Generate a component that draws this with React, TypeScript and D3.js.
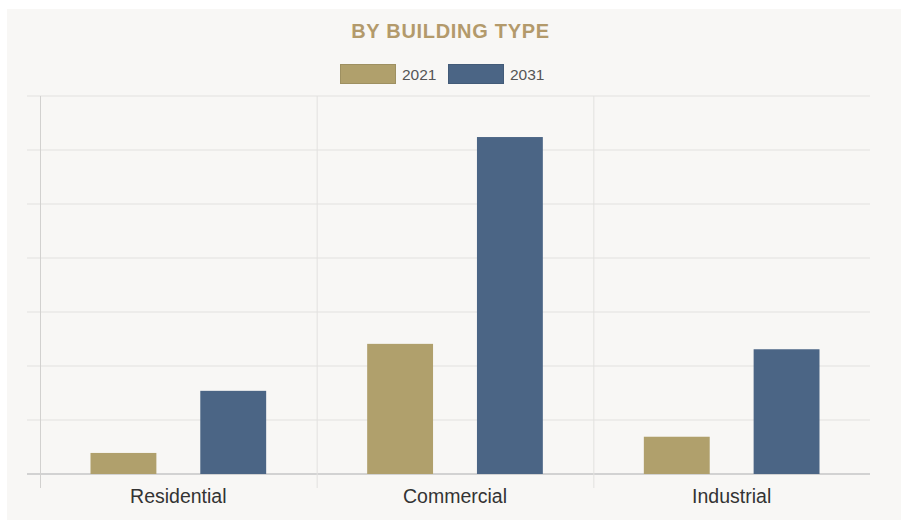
import React from "react";
import * as d3 from "d3";

const categories = ["Residential", "Commercial", "Industrial"];
const seriesNames = ["2021", "2031"];
const values2021 = [3.9, 24.1, 6.9];
const values2031 = [15.4, 62.4, 23.1];
const yTicks = [0, 10, 20, 30, 40, 50, 60, 70];
const colors = ["#b0a06c", "#4b6585"];

export default function App() {
  const W = 901, H = 520;
  const left = 40, right = 870, top = 96, bottom = 474;
  const x0 = d3.scaleBand<string>().domain(categories).range([left, right]).padding(0);
  const x1 = d3.scaleBand<string>().domain(seriesNames).range([0, x0.bandwidth()]).paddingInner(0.4).paddingOuter(0.46);
  const y = d3.scaleLinear().domain([0, 70]).range([bottom, top]);
  const series = [values2021, values2031];
  const bounds = [...categories.map((c) => x0(c)!)];

  return (
    <svg width={W} height={H} style={{ position: "absolute", left: 0, top: 0, display: "block" }}>
      <rect x={0} y={0} width={W} height={H} fill="#ffffff" />
      <rect x={7} y={9} width={W - 7} height={H - 9} fill="#f8f7f5" />
      <text x={450.5} y={38} textAnchor="middle" fontFamily="Liberation Sans, Arial, sans-serif" fontWeight="bold" fontSize={20} letterSpacing={0.7} fill="#b39a6b">
        BY BUILDING TYPE
      </text>
      {seriesNames.map((s, i) => (
        <g key={s} transform={`translate(${340 + i * 108},64)`}>
          <rect x={0.5} y={0.5} width={55} height={19} fill={colors[i]} stroke={d3.color(colors[i])!.darker(0.3).toString()} strokeWidth={1} />
          <text x={62} y={15.5} fontFamily="Liberation Sans, Arial, sans-serif" fontSize={15.5} fill="#555">{s}</text>
        </g>
      ))}
      {yTicks.map((t) => (
        <line key={t} x1={27} x2={right} y1={y(t)} y2={y(t)} stroke={t === 0 ? "#c6c6c6" : "#e2e1df"} strokeWidth={t === 0 ? 1.5 : 1} />
      ))}
      {bounds.map((b, i) => (
        <line key={i} x1={b + 0.5} x2={b + 0.5} y1={top} y2={488} stroke={i === 0 ? "#d2d1cf" : "#e2e1df"} strokeWidth={1} />
      ))}
      {categories.map((c, ci) => (
        <g key={c}>
          {series.map((vals, si) => (
            <rect key={si} x={x0(c)! + x1(seriesNames[si])!} y={y(vals[ci])} width={x1.bandwidth()} height={bottom - y(vals[ci])} fill={colors[si]} />
          ))}
          <text x={x0(c)! + x0.bandwidth() / 2} y={503} textAnchor="middle" fontFamily="Liberation Sans, Arial, sans-serif" fontSize={19.5} fill="#333">
            {c}
          </text>
        </g>
      ))}
    </svg>
  );
}
